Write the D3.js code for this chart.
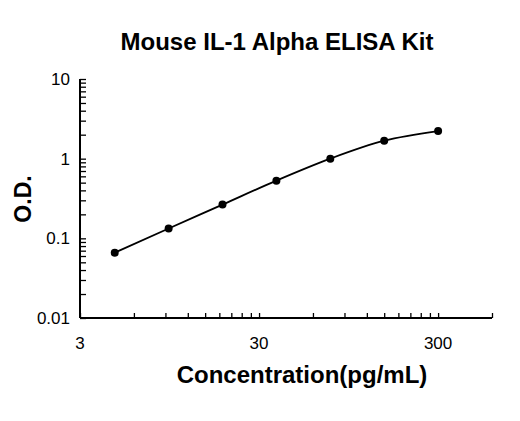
<!DOCTYPE html>
<html>
<head>
<meta charset="utf-8">
<script src="https://cdn.jsdelivr.net/npm/d3@7"></script>
<style>
  body { margin: 0; background: #fff; }
  text { font-family: "Liberation Sans", Arial, sans-serif; }
</style>
</head>
<body>
<svg id="chart" width="520" height="421"></svg>
<script>
const width = 520;
const height = 421;
const margin = { top: 79, right: 28, bottom: 103, left: 80 };

const concentration = [4.69, 9.38, 18.75, 37.5, 75, 150, 300];
const od = [0.066, 0.133, 0.265, 0.53, 1.0, 1.68, 2.22];
const xTickLabels = [3, 30, 300];
const yTickLabels = [0.01, 0.1, 1, 10];

const svg = d3.select('#chart');

const xScale = d3.scaleLog()
  .domain([3, 600])
  .range([margin.left, width - margin.right]);

const yScale = d3.scaleLog()
  .domain([0.01, 10])
  .range([height - margin.bottom, margin.top]);

// minor ticks: 3*k*10^n on x, k*10^n on y
const xMinor = [];
[1, 10, 100].forEach(p => { for (let k = 1; k <= 9; k++) { const v = 3 * k * p; if (v <= 600) xMinor.push(v) } });
const yMinor = [];
[0.01, 0.1, 1].forEach(p => { for (let k = 1; k <= 9; k++) yMinor.push(k * p) });
yMinor.push(10);

const xAxis = svg.append('g')
  .attr('transform', `translate(0, ${height - margin.bottom})`)
  .call(d3.axisTop(xScale).tickValues(xMinor).tickSize(5).tickFormat(''));
xAxis.select('.domain').attr('d', `M${margin.left},0H${width - margin.right}`);

const yAxis = svg.append('g')
  .attr('transform', `translate(${margin.left}, 0)`)
  .call(d3.axisRight(yScale).tickValues(yMinor).tickSize(6).tickFormat(''));
yAxis.select('.domain').attr('d', `M0,${margin.top}V${height - margin.bottom}`);

svg.selectAll('.domain').attr('stroke', '#000').attr('stroke-width', 2);
svg.selectAll('.tick line').attr('stroke', '#000').attr('stroke-width', 1.3);

svg.append('g').selectAll('text')
  .data(xTickLabels).join('text')
  .attr('x', d => xScale(d)).attr('y', height - margin.bottom + 31)
  .attr('text-anchor', 'middle').attr('font-size', 17).text(d => d);

svg.append('g').selectAll('text')
  .data(yTickLabels).join('text')
  .attr('x', margin.left - 10).attr('y', d => yScale(d) + 6)
  .attr('text-anchor', 'end').attr('font-size', 17).text(d => d);

const line = d3.line()
  .x((d, i) => xScale(concentration[i]))
  .y(d => yScale(d))
  .curve(d3.curveMonotoneX);

svg.append('path').datum(od)
  .attr('d', line).attr('fill', 'none')
  .attr('stroke', '#000').attr('stroke-width', 1.8);

svg.append('g').selectAll('circle')
  .data(od).join('circle')
  .attr('cx', (d, i) => xScale(concentration[i]))
  .attr('cy', d => yScale(d))
  .attr('r', 4).attr('fill', '#000');

svg.append('text')
  .attr('x', 277).attr('y', 50).attr('text-anchor', 'middle')
  .attr('font-size', 24).attr('font-weight', 'bold')
  .text('Mouse IL-1 Alpha ELISA Kit');

svg.append('text')
  .attr('x', 302).attr('y', 383).attr('text-anchor', 'middle')
  .attr('font-size', 24).attr('font-weight', 'bold')
  .text('Concentration(pg/mL)');

svg.append('text')
  .attr('transform', 'translate(31, 199) rotate(-90)')
  .attr('text-anchor', 'middle')
  .attr('font-size', 23).attr('font-weight', 'bold')
  .text('O.D.');
</script>
</body>
</html>
